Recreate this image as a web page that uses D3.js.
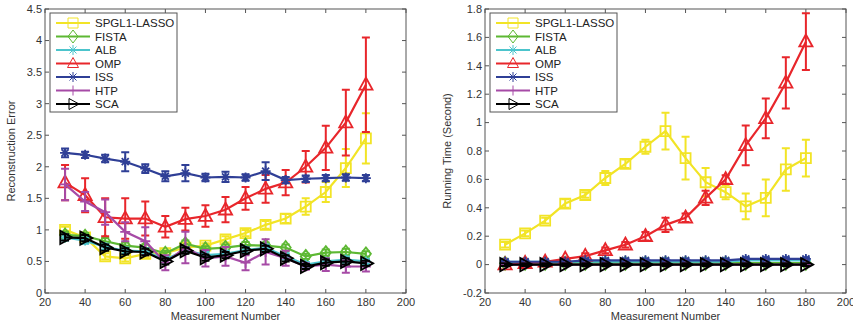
<!DOCTYPE html>
<html>
<head>
<meta charset="utf-8">
<script src="https://cdn.jsdelivr.net/npm/d3@7"></script>
<style>
  body { margin: 0; background: #fff; }
  svg { font-family: "Liberation Sans", Arial, sans-serif; }
</style>
</head>
<body>
<div id="chart"></div>
<script>
// Measurement numbers (x values)
const measurements = [30, 40, 50, 60, 70, 80, 90, 100, 110, 120, 130, 140, 150, 160, 170, 180];
const methods = ["SPGL1-LASSO", "FISTA", "ALB", "OMP", "ISS", "HTP", "SCA"];

// Reconstruction error (left panel): means and error half-widths
const errSpgl = [1.00, 0.88, 0.58, 0.55, 0.62, 0.63, 0.72, 0.75, 0.85, 0.95, 1.08, 1.18, 1.37, 1.60, 1.98, 2.45];
const errSpglBar = [0.05, 0.04, 0.05, 0.05, 0.05, 0.04, 0.05, 0.04, 0.05, 0.05, 0.06, 0.07, 0.13, 0.16, 0.30, 0.40];
const errFista = [0.92, 0.90, 0.82, 0.75, 0.72, 0.63, 0.78, 0.70, 0.72, 0.76, 0.75, 0.72, 0.58, 0.64, 0.65, 0.62];
const errFistaBar = [0.05, 0.05, 0.05, 0.05, 0.05, 0.04, 0.05, 0.04, 0.05, 0.05, 0.05, 0.05, 0.04, 0.05, 0.05, 0.04];
const errAlb = [0.88, 0.83, 0.73, 0.67, 0.66, 0.53, 0.68, 0.60, 0.62, 0.68, 0.72, 0.58, 0.45, 0.50, 0.53, 0.50];
const errAlbBar = [0.05, 0.05, 0.05, 0.05, 0.05, 0.05, 0.05, 0.05, 0.05, 0.05, 0.05, 0.05, 0.04, 0.05, 0.05, 0.04];
const errOmp = [1.75, 1.55, 1.20, 1.18, 1.18, 1.05, 1.17, 1.22, 1.32, 1.50, 1.65, 1.75, 2.00, 2.30, 2.70, 3.30];
const errOmpBar = [0.28, 0.27, 0.30, 0.32, 0.27, 0.17, 0.18, 0.17, 0.20, 0.18, 0.22, 0.20, 0.25, 0.35, 0.52, 0.75];
const errIss = [2.22, 2.19, 2.13, 2.08, 1.97, 1.85, 1.90, 1.83, 1.84, 1.83, 1.93, 1.79, 1.81, 1.82, 1.83, 1.82];
const errIssBar = [0.07, 0.05, 0.06, 0.15, 0.07, 0.08, 0.13, 0.06, 0.08, 0.05, 0.14, 0.05, 0.05, 0.05, 0.05, 0.05];
const errHtp = [1.72, 1.45, 1.28, 0.97, 0.82, 0.48, 0.72, 0.55, 0.58, 0.48, 0.65, 0.55, 0.42, 0.45, 0.42, 0.42];
const errHtpBar = [0.25, 0.15, 0.20, 0.15, 0.22, 0.12, 0.25, 0.13, 0.15, 0.12, 0.20, 0.12, 0.05, 0.10, 0.10, 0.08];
const errSca = [0.88, 0.87, 0.72, 0.66, 0.65, 0.50, 0.67, 0.56, 0.60, 0.67, 0.70, 0.55, 0.42, 0.48, 0.50, 0.47];
const errScaBar = [0.05, 0.05, 0.05, 0.05, 0.05, 0.05, 0.05, 0.05, 0.05, 0.05, 0.05, 0.05, 0.04, 0.05, 0.05, 0.04];

// Running time (right panel): means and error half-widths
const timeSpgl = [0.14, 0.22, 0.31, 0.43, 0.49, 0.61, 0.71, 0.83, 0.94, 0.75, 0.58, 0.51, 0.41, 0.47, 0.67, 0.75];
const timeSpglBar = [0.02, 0.02, 0.02, 0.03, 0.02, 0.05, 0.03, 0.05, 0.13, 0.15, 0.10, 0.05, 0.09, 0.13, 0.15, 0.13];
const timeFista = [0.01, 0.01, 0.01, 0.01, 0.01, 0.01, 0.01, 0.01, 0.01, 0.01, 0.01, 0.01, 0.01, 0.01, 0.01, 0.01];
const timeAlb = [0.02, 0.02, 0.02, 0.02, 0.02, 0.02, 0.02, 0.02, 0.02, 0.02, 0.02, 0.02, 0.03, 0.03, 0.03, 0.03];
const timeOmp = [0.00, 0.01, 0.02, 0.04, 0.06, 0.10, 0.14, 0.20, 0.28, 0.33, 0.47, 0.60, 0.84, 1.03, 1.28, 1.57];
const timeOmpBar = [0.01, 0.01, 0.01, 0.01, 0.02, 0.02, 0.02, 0.03, 0.05, 0.03, 0.05, 0.03, 0.14, 0.14, 0.18, 0.20];
const timeIss = [0.02, 0.02, 0.02, 0.02, 0.03, 0.03, 0.03, 0.03, 0.03, 0.03, 0.03, 0.03, 0.04, 0.04, 0.04, 0.04];
const timeHtp = [0.00, 0.00, 0.00, 0.00, 0.00, 0.00, 0.00, 0.00, 0.00, 0.00, 0.00, 0.00, 0.00, 0.00, 0.00, 0.00];
const timeSca = [0.00, 0.00, 0.00, 0.00, 0.00, 0.00, 0.00, 0.00, 0.00, 0.00, 0.00, 0.00, 0.00, 0.00, 0.00, 0.00];
const timeSmallBar = [0.01, 0.01, 0.01, 0.01, 0.01, 0.01, 0.01, 0.01, 0.01, 0.01, 0.01, 0.01, 0.01, 0.01, 0.01, 0.01];

const xTicks = [20, 40, 60, 80, 100, 120, 140, 160, 180, 200];
const errTicks = [0, 0.5, 1, 1.5, 2, 2.5, 3, 3.5, 4, 4.5];
const timeTicks = [-0.2, 0, 0.2, 0.4, 0.6, 0.8, 1, 1.2, 1.4, 1.6, 1.8];

const colors = {
  "SPGL1-LASSO": "#f2e426", "FISTA": "#5db833", "ALB": "#4cc4cc",
  "OMP": "#e8262b", "ISS": "#2f3f96", "HTP": "#a64aa6", "SCA": "#000000"
};
const markers = {
  "SPGL1-LASSO": "square", "FISTA": "diamond", "ALB": "star",
  "OMP": "triangleUp", "ISS": "star", "HTP": "plus", "SCA": "triangleRight"
};

const svg = d3.select("#chart").append("svg")
  .attr("width", 853)
  .attr("height", 323);

function markerPath(type, s) {
  const h = s / 2;
  switch (type) {
    case "square": return `M${-h},${-h}H${h}V${h}H${-h}Z`;
    case "diamond": return `M0,${-h * 1.3}L${h},0L0,${h * 1.3}L${-h},0Z`;
    case "triangleUp": return `M0,${-h * 1.2}L${h * 1.1},${h * 0.8}L${-h * 1.1},${h * 0.8}Z`;
    case "triangleRight": return `M${h * 1.2},0L${-h * 0.8},${h * 1.1}L${-h * 0.8},${-h * 1.1}Z`;
    case "plus": return `M${-h},0H${h}M0,${-h}V${h}`;
    case "star": {
      const d = h * 0.7;
      return `M${-h},0H${h}M0,${-h}V${h}M${-d},${-d}L${d},${d}M${-d},${d}L${d},${-d}`;
    }
  }
}

function drawPanel(cfg) {
  const left = cfg.left, right = cfg.right, top = 9, bottom = 293;
  const x = d3.scaleLinear().domain([20, 200]).range([left, right]);
  const y = d3.scaleLinear().domain(cfg.yDomain).range([bottom, top]);
  const g = svg.append("g");

  // axes box
  g.append("rect")
    .attr("x", left).attr("y", top)
    .attr("width", right - left).attr("height", bottom - top)
    .attr("fill", "none").attr("stroke", "#555").attr("stroke-width", 1);

  // inward ticks on all four sides
  const tk = 4;
  xTicks.forEach(t => {
    g.append("line").attr("x1", x(t)).attr("x2", x(t)).attr("y1", bottom).attr("y2", bottom - tk).attr("stroke", "#555");
    g.append("line").attr("x1", x(t)).attr("x2", x(t)).attr("y1", top).attr("y2", top + tk).attr("stroke", "#555");
    g.append("text").attr("x", x(t)).attr("y", bottom + 13)
      .attr("text-anchor", "middle").style("font-size", "11px").style("fill", "#333")
      .text(t);
  });
  cfg.yTicks.forEach(t => {
    g.append("line").attr("x1", left).attr("x2", left + tk).attr("y1", y(t)).attr("y2", y(t)).attr("stroke", "#555");
    g.append("line").attr("x1", right).attr("x2", right - tk).attr("y1", y(t)).attr("y2", y(t)).attr("stroke", "#555");
    g.append("text").attr("x", left - 3).attr("y", y(t)).attr("dy", "0.35em")
      .attr("text-anchor", "end").style("font-size", "11px").style("fill", "#333")
      .text(t);
  });

  // axis labels
  g.append("text")
    .attr("x", (left + right) / 2).attr("y", 320)
    .attr("text-anchor", "middle").style("font-size", "11px").style("fill", "#333")
    .text("Measurement Number");
  g.append("text")
    .attr("transform", `translate(${left - cfg.yLabelOffset}, ${(top + bottom) / 2}) rotate(-90)`)
    .attr("text-anchor", "middle").style("font-size", "11px").style("fill", "#333")
    .text(cfg.yLabel);

  const line = d3.line().x((d, i) => x(measurements[i])).y(d => y(d));

  cfg.series.forEach(s => {
    const c = colors[s.name];
    const sg = g.append("g");
    // error bars
    s.values.forEach((v, i) => {
      const e = s.bars[i];
      const cx = x(measurements[i]);
      sg.append("path")
        .attr("d", `M${cx},${y(v - e)}V${y(v + e)}M${cx - 4},${y(v - e)}H${cx + 4}M${cx - 4},${y(v + e)}H${cx + 4}`)
        .attr("stroke", c).attr("stroke-width", 2).attr("fill", "none");
    });
    sg.append("path").datum(s.values)
      .attr("d", line)
      .attr("fill", "none").attr("stroke", c).attr("stroke-width", 2.2);
    sg.selectAll(".mk").data(s.values).enter().append("path")
      .attr("transform", (d, i) => `translate(${x(measurements[i])},${y(d)})`)
      .attr("d", markerPath(markers[s.name], s.name === "OMP" || s.name === "SCA" ? 12 : 10))
      .attr("fill", "none").attr("stroke", c).attr("stroke-width", 1.8);
  });

  // legend
  const lx = left + 5, ly = 13;
  const lg = g.append("g");
  lg.append("rect").attr("x", lx).attr("y", ly).attr("width", 127).attr("height", 99)
    .attr("fill", "#fff").attr("stroke", "#555").attr("stroke-width", 1);
  methods.forEach((m, i) => {
    const yy = ly + 10 + i * 13.5;
    const c = colors[m];
    lg.append("line").attr("x1", lx + 6).attr("x2", lx + 40).attr("y1", yy).attr("y2", yy)
      .attr("stroke", c).attr("stroke-width", 2.2);
    lg.append("path").attr("transform", `translate(${lx + 23},${yy})`)
      .attr("d", markerPath(markers[m], 10))
      .attr("fill", "none").attr("stroke", c).attr("stroke-width", 1);
    lg.append("text").attr("x", lx + 45).attr("y", yy).attr("dy", "0.35em")
      .style("font-size", "11.5px").style("fill", "#222").text(m);
  });
}

drawPanel({
  left: 45, right: 406, yLabelOffset: 30,
  yDomain: [0, 4.5], yTicks: errTicks, yLabel: "Reconstruction Error",
  series: [
    { name: "SPGL1-LASSO", values: errSpgl, bars: errSpglBar },
    { name: "FISTA", values: errFista, bars: errFistaBar },
    { name: "ALB", values: errAlb, bars: errAlbBar },
    { name: "OMP", values: errOmp, bars: errOmpBar },
    { name: "ISS", values: errIss, bars: errIssBar },
    { name: "HTP", values: errHtp, bars: errHtpBar },
    { name: "SCA", values: errSca, bars: errScaBar }
  ]
});

drawPanel({
  left: 485, right: 846, yLabelOffset: 34,
  yDomain: [-0.2, 1.8], yTicks: timeTicks, yLabel: "Running Time (Second)",
  series: [
    { name: "SPGL1-LASSO", values: timeSpgl, bars: timeSpglBar },
    { name: "FISTA", values: timeFista, bars: timeSmallBar },
    { name: "ALB", values: timeAlb, bars: timeSmallBar },
    { name: "OMP", values: timeOmp, bars: timeOmpBar },
    { name: "ISS", values: timeIss, bars: timeSmallBar },
    { name: "HTP", values: timeHtp, bars: timeSmallBar },
    { name: "SCA", values: timeSca, bars: timeSmallBar }
  ]
});
</script>
</body>
</html>
